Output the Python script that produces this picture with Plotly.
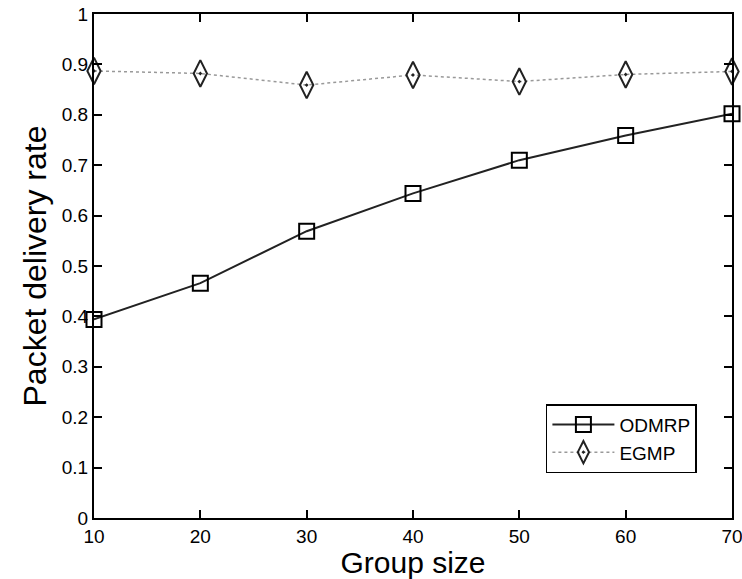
import plotly.graph_objects as go

group_size = [10, 20, 30, 40, 50, 60, 70]
odmrp = [0.394, 0.466, 0.569, 0.644, 0.710, 0.759, 0.802]
egmp = [0.887, 0.882, 0.859, 0.879, 0.866, 0.880, 0.886]
y_ticks = [0, 0.1, 0.2, 0.3, 0.4, 0.5, 0.6, 0.7, 0.8, 0.9, 1]
x_ticks = [10, 20, 30, 40, 50, 60, 70]

FONT = "Liberation Sans, Arial, Helvetica, sans-serif"

fig = go.Figure()
fig.add_trace(go.Scatter(
    x=group_size, y=odmrp, name="ODMRP", mode="lines+markers",
    line=dict(color="#222222", width=2),
    marker=dict(symbol="square-open", size=15, color="black", line=dict(width=2, color="black")),
    cliponaxis=False,
))
fig.add_trace(go.Scatter(
    x=group_size, y=egmp, name="EGMP", mode="lines+markers",
    line=dict(color="#999999", width=1.5, dash="dot"),
    marker=dict(symbol="diamond-tall-open-dot", size=19, color="#222222", line=dict(width=2, color="#222222")),
    cliponaxis=False,
))

axis_common = dict(
    showline=True, linecolor="black", linewidth=2, mirror="ticks",
    ticks="inside", ticklen=8, tickwidth=2, tickcolor="black",
    showgrid=False, zeroline=False,
    tickfont=dict(family=FONT, size=19, color="black"),
    ticklabeloverflow="allow",
)

fig.update_xaxes(range=[10, 70], tickvals=x_ticks,
                 title=dict(text="Group size", font=dict(family=FONT, size=30, color="black"), standoff=5),
                 **axis_common)
fig.update_yaxes(range=[0, 1], tickvals=y_ticks,
                 title=dict(text="Packet delivery rate", font=dict(family=FONT, size=32, color="black"), standoff=6),
                 **axis_common)

fig.update_layout(
    width=742, height=579,
    margin=dict(l=94, r=10, t=14, b=61, autoexpand=False),
    paper_bgcolor="white", plot_bgcolor="white",
    font=dict(family=FONT, color="black"),
    legend=dict(
        x=0.945, y=0.226, xanchor="right", yanchor="top",
        bordercolor="black", borderwidth=1.5, bgcolor="white",
        font=dict(family=FONT, size=19, color="black"),
        tracegroupgap=0, itemwidth=62,
    ),
    showlegend=True,
)

fig.write_html("out.html")
